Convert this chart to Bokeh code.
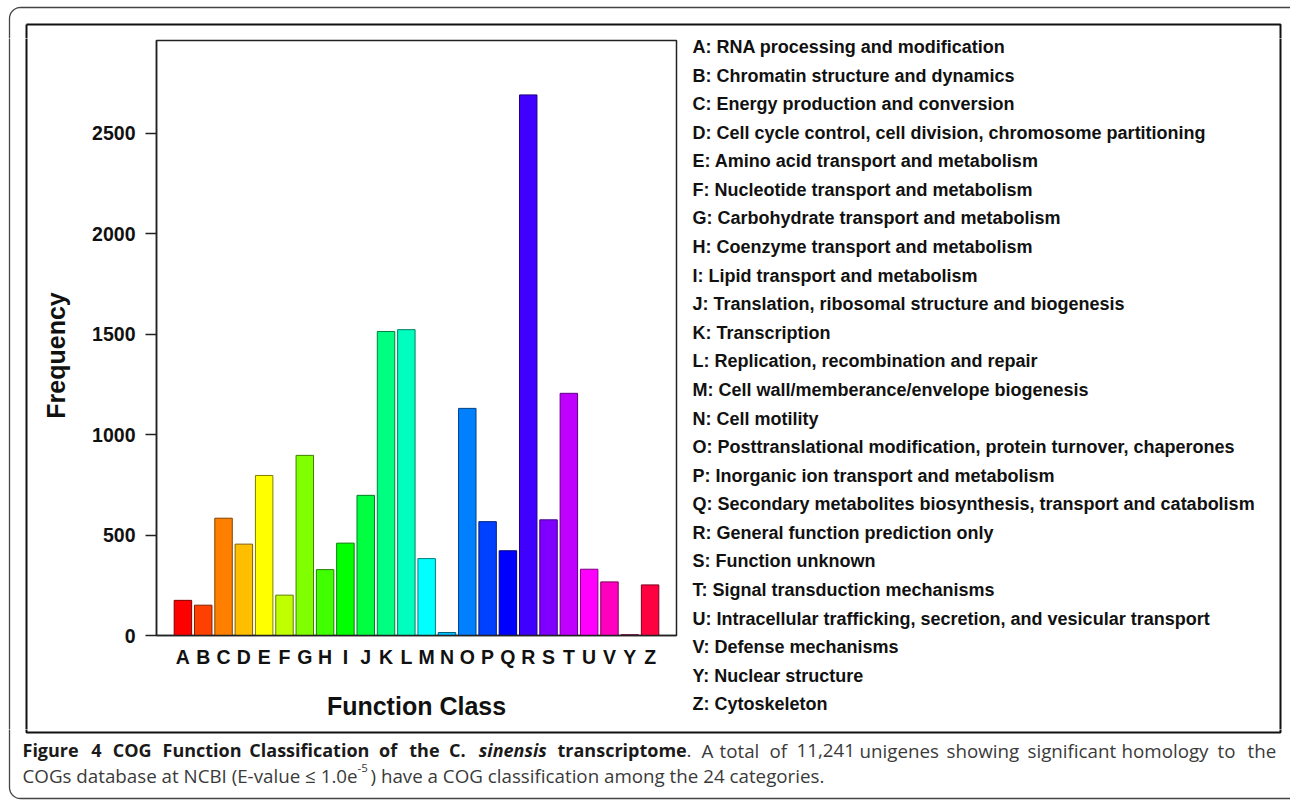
import numpy as np
from bokeh.plotting import figure
from bokeh.models import ColumnDataSource, FactorRange, Range1d, FixedTicker
from bokeh.layouts import row, column
from bokeh.core.properties import value
from bokeh.embed import file_html
from bokeh.resources import INLINE

# ---------------- data ----------------
categories = list("ABCDEFGHIJKLMNOPQRSTUVYZ")
counts = [175, 151, 584, 455, 797, 201, 897, 328, 460, 698, 1514, 1523,
          383, 15, 1131, 567, 422, 2692, 576, 1206, 330, 267, 4, 252]
bar_colors = ["#FF0000", "#FF4000", "#FF8000", "#FFBF00", "#FFFF00", "#BFFF00",
              "#80FF00", "#40FF00", "#00FF00", "#00FF40", "#00FF80", "#00FFBF",
              "#00FFFF", "#00BFFF", "#0080FF", "#0040FF", "#0000FF", "#4000FF",
              "#8000FF", "#BF00FF", "#FF00FF", "#FF00BF", "#FF0080", "#FF0040"]
descriptions = [
    "A: RNA processing and modification",
    "B: Chromatin structure and dynamics",
    "C: Energy production and conversion",
    "D: Cell cycle control, cell division, chromosome partitioning",
    "E: Amino acid transport and metabolism",
    "F: Nucleotide transport and metabolism",
    "G: Carbohydrate transport and metabolism",
    "H: Coenzyme transport and metabolism",
    "I: Lipid transport and metabolism",
    "J: Translation, ribosomal structure and biogenesis",
    "K: Transcription",
    "L: Replication, recombination and repair",
    "M: Cell wall/memberance/envelope biogenesis",
    "N: Cell motility",
    "O: Posttranslational modification, protein turnover, chaperones",
    "P: Inorganic ion transport and metabolism",
    "Q: Secondary metabolites biosynthesis, transport and catabolism",
    "R: General function prediction only",
    "S: Function unknown",
    "T: Signal transduction mechanisms",
    "U: Intracellular trafficking, secretion, and vesicular transport",
    "V: Defense mechanisms",
    "Y: Nuclear structure",
    "Z: Cytoskeleton",
]
y_ticks = [0, 500, 1000, 1500, 2000, 2500]
y_max = 2963
x_label = "Function Class"
y_label = "Frequency"

# caption, line 1 (justified word by word)
cap1_words = ["Figure", "4", "COG", "Function", "Classification", "of", "the",
              "C.", "sinensis", "transcriptome", ".", "A", "total", "of",
              "11,241", "unigenes", "showing", "significant", "homology",
              "to", "the"]
cap1_styles = ["bold"] * 8 + ["bold italic", "bold"] + ["normal"] * 11
cap1_x = [22, 90.8, 112.2, 162, 248.8, 378.5, 408.8, 448.5, 478.3, 557,
          686, 701, 719, 769, 796, 859, 946, 1027, 1121, 1217, 1247]
# caption, line 2
cap2_a = "COGs database at NCBI (E-value \u2264 1.0e"
cap2_sup = "-5"
cap2_b = ") have a COG classification among the 24 categories."

# ---------------- layout constants (page pixels) ----------------
W, H = 1290, 801
FONT_NAME = "Liberation Sans"
FONT = value(FONT_NAME)
CAPF = value("Open Sans")


def darker(h, f=0.5):
    h = h.lstrip("#")
    r, g, b = (int(h[i:i + 2], 16) for i in (0, 2, 4))
    return "#%02x%02x%02x" % (int(r * f), int(g * f), int(b * f))


# outer rounded frame path (decoration)
R = 11
t1 = np.linspace(np.pi / 2, np.pi, 12)
t2 = np.linspace(np.pi, 1.5 * np.pi, 12)
cx1, cy1 = 9 + R, 7 + R
cx2, cy2 = 9 + R, 798 - R
ox = [1300] + list(cx1 + R * np.cos(t1)) + list(cx2 + R * np.cos(t2)) + [1300]
oy = [7] + list(cy1 - R * np.sin(t1)) + list(cy2 - R * np.sin(t2)) + [798]


def decor_fig(x0, x1, y0, y1):
    f = figure(width=x1 - x0, height=y1 - y0,
               x_range=Range1d(x0, x1), y_range=Range1d(y1, y0),
               x_axis_type=None, y_axis_type=None, toolbar_location=None,
               output_backend="svg", min_border=0, outline_line_color=None,
               title=None, background_fill_color="white", border_fill_color="white",
               frame_align=False)
    f.line([26, 1280, 1280, 26, 26], [24, 24, 732, 732, 24],
           line_color="#111111", line_width=2)
    f.line(ox, oy, line_color="#444444", line_width=1.3)
    return f


# ---------------- bar chart ----------------
CX0, CX1, CY0, CY1 = 72, 678, 38, 729
FL, FR, FT, FB = 156, 676, 40, 635
p = figure(width=CX1 - CX0, height=CY1 - CY0,
           x_range=FactorRange(factors=categories, range_padding=0.8,
                               range_padding_units="absolute"),
           y_range=Range1d(0, y_max),
           toolbar_location=None, output_backend="svg", title=None,
           min_border_left=FL - CX0, min_border_right=CX1 - FR,
           min_border_top=FT - CY0, min_border_bottom=CY1 - FB,
           background_fill_color="white", border_fill_color="white",
           frame_align=False)

src = ColumnDataSource(dict(cat=categories, count=counts, fill=bar_colors,
                            line=[darker(c) for c in bar_colors]))
p.vbar(x="cat", top="count", width=0.86, source=src,
       fill_color="fill", line_color="line", line_width=1)

p.xgrid.visible = False
p.ygrid.visible = False
p.outline_line_color = "#222222"
p.outline_line_width = 1.5

for ax in (p.xaxis[0], p.yaxis[0]):
    ax.axis_line_color = "#222222"
    ax.axis_line_width = 1.5
    ax.major_tick_line_color = "#222222"
    ax.major_tick_line_width = 1.5
    ax.minor_tick_in = 0
    ax.minor_tick_out = 0
    ax.major_tick_in = 0
    ax.major_label_text_font = FONT_NAME
    ax.major_label_text_font_style = "bold"
    ax.major_label_text_font_size = "19.5px"
    ax.major_label_text_color = "#111111"
    ax.axis_label_text_font = FONT_NAME
    ax.axis_label_text_font_style = "bold"
    ax.axis_label_text_font_size = "25px"
    ax.axis_label_text_color = "#111111"

p.xaxis.major_tick_out = 0
p.xaxis.major_label_standoff = 10
p.xaxis.axis_label = x_label
p.xaxis.axis_label_standoff = 21

p.yaxis.ticker = FixedTicker(ticks=y_ticks)
p.yaxis.major_tick_out = 11
p.yaxis.major_label_standoff = 10

# ---------------- surrounding panels ----------------
top = decor_fig(0, W, 0, CY0)
left = decor_fig(0, CX0, CY0, CY1)
right = decor_fig(CX1, W, CY0, CY1)
bottom = decor_fig(0, W, CY1, H)

# y-axis title (drawn in the left panel, rotated)
left.text(x=[55], y=[355], text=[y_label], angle=np.pi / 2, text_font=FONT,
          text_font_style="bold", text_font_size="25px", text_color="#111111",
          text_align="center", text_baseline="middle")

# legend descriptions (right panel)
leg_x, leg_y0, leg_dy = 692, 46.5, 28.58
leg_src = ColumnDataSource(dict(
    x=[leg_x] * len(descriptions),
    y=[leg_y0 + i * leg_dy for i in range(len(descriptions))],
    t=descriptions))
right.text(x="x", y="y", text="t", source=leg_src, text_font=FONT,
           text_font_style="bold", text_font_size="18px",
           text_color="#111111", text_baseline="alphabetic", text_align="left")

# caption (bottom panel)
B1, B2 = 749.5, 774.5
BC, NC = "#1a1a1a", "#3a3a3a"
c1 = ColumnDataSource(dict(
    x=cap1_x, y=[B1] * len(cap1_words), t=cap1_words,
    style=cap1_styles,
    color=[BC if s != "normal" else NC for s in cap1_styles],
    size=["18px" if s != "normal" else "18.75px" for s in cap1_styles]))
bottom.text(x="x", y="y", text="t", source=c1, text_font=CAPF,
            text_font_style="style", text_color="color", text_font_size="size",
            text_baseline="alphabetic", text_align="left")


def cap(fig, x, y, t, size="18.75px", color=NC):
    fig.text(x=[x], y=[y], text=[t], text_font=CAPF, text_font_style="normal",
             text_font_size=size, text_color=color, text_baseline="alphabetic",
             text_align="left")


cap(bottom, 22, B2, cap2_a)
cap(bottom, 357, B2 - 7, cap2_sup, size="11.5px")
cap(bottom, 370, B2, cap2_b)

layout = column(top, row(left, p, right), bottom)
open("out.html", "w").write(file_html(layout, INLINE))
